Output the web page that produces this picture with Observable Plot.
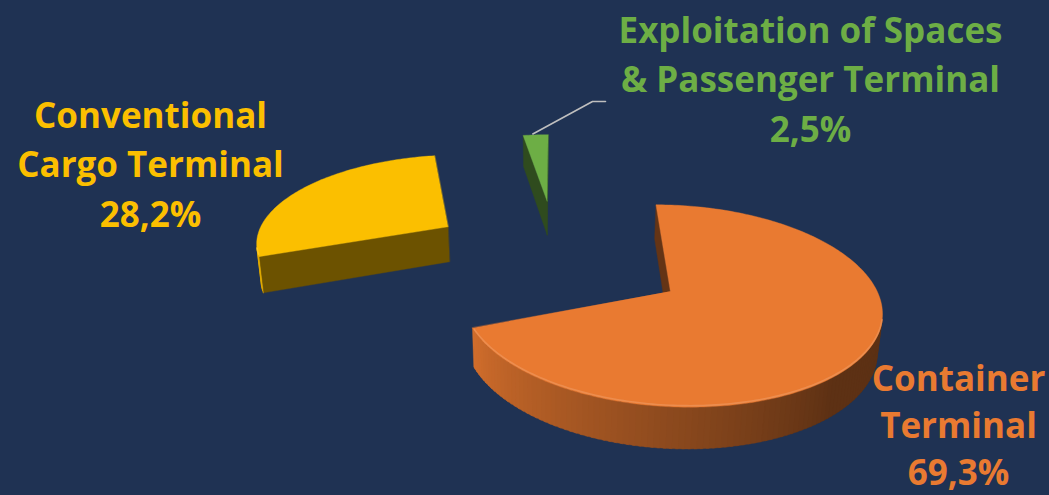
<!DOCTYPE html>
<html>
<head>
<meta charset="utf-8">
<script src="https://cdn.jsdelivr.net/npm/d3@7"></script>
<script src="https://cdn.jsdelivr.net/npm/@observablehq/plot@0.6"></script>
<style>
  html, body { margin: 0; padding: 0; background: #1F3253; }
  #chart { width: 1049px; height: 495px; }
</style>
</head>
<body>
<div id="chart"></div>
<script>
// ---- data ----
const categories = ["Container Terminal", "Conventional Cargo Terminal", "Exploitation of Spaces & Passenger Terminal"];
const values = [69.3, 28.2, 2.5];
const valueLabels = ["69,3%", "28,2%", "2,5%"];
const labelLines = [["Container", "Terminal"], ["Conventional", "Cargo Terminal"], ["Exploitation of Spaces", "& Passenger Terminal"]];
const colors = ["#E97A31", "#FBBF00", "#6DAE45"];

// ---- layout ----
const W = 1049, H = 495;
const CX = 556, CY = 255, S = 196, DIST = 6.5, PHI = 27 * Math.PI / 180, DEPTH = 0.21, EXPLODE = 0.67;
const labelPos = [ // [center x, first baseline y, line gap]
  [958, 390, 47], [150, 127, 49.5], [810, 42, 49.5]
];
const sinP = Math.sin(PHI), cosP = Math.cos(PHI);
const rad = Math.PI / 180;

function proj(X, Y, Z) {
  const w = DIST + Z * cosP - Y * sinP;
  const f = DIST / w;
  return [CX + S * X * f, CY - S * (Z * sinP + Y * cosP) * f];
}
const cam = [0, DIST * sinP, -DIST * cosP];
function visible(n, p) {
  return n[0] * (cam[0] - p[0]) + n[1] * (cam[1] - p[1]) + n[2] * (cam[2] - p[2]) > 0;
}
function shade(color, L) {
  const c = d3.rgb(color);
  return d3.rgb(c.r * L, c.g * L, c.b * L).formatHex();
}
function tint(color, t) {
  return d3.interpolateRgb(color, "#ffffff")(t);
}

// ---- slices ----
const total = d3.sum(values);
let acc = 0;
const slices = values.map((v, i) => {
  const a0 = acc / total * 360; acc += v; const a1 = acc / total * 360;
  const mid = (a0 + a1) / 2 * rad;
  return {i, a0, a1, ox: EXPLODE * Math.sin(mid), oz: EXPLODE * Math.cos(mid)};
});

const rows = [];
const highlight = [];
let fid = 0;
function addPoly(pts3, fill) {
  const id = fid++;
  for (const p of pts3) {
    const [px, py] = proj(p[0], p[1], p[2]);
    rows.push({id, px, py, fill});
  }
}
function rimPt(s, aDeg, Y) {
  return [s.ox + Math.sin(aDeg * rad), Y, s.oz + Math.cos(aDeg * rad)];
}

const order = [...slices].sort((a, b) => b.oz - a.oz);
let hid = 0;
for (const s of order) {
  const col = colors[s.i];
  const apexT = [s.ox, 0, s.oz], apexB = [s.ox, -DEPTH, s.oz];
  const sides = [];
  // cut face at a0
  {
    const n = [-Math.cos(s.a0 * rad), 0, Math.sin(s.a0 * rad)];
    const pts = [apexT, rimPt(s, s.a0, 0), rimPt(s, s.a0, -DEPTH), apexB];
    const c = [(s.ox + pts[1][0]) / 2, -DEPTH / 2, (s.oz + pts[1][2]) / 2];
    if (visible(n, c)) sides.push({pts, fill: shade(col, 0.43)});
  }
  // cut face at a1
  {
    const n = [Math.cos(s.a1 * rad), 0, -Math.sin(s.a1 * rad)];
    const pts = [apexT, rimPt(s, s.a1, 0), rimPt(s, s.a1, -DEPTH), apexB];
    const c = [(s.ox + pts[1][0]) / 2, -DEPTH / 2, (s.oz + pts[1][2]) / 2];
    if (visible(n, c)) sides.push({pts, fill: shade(col, 0.43)});
  }
  // rim (segments overlap slightly to hide seams)
  const steps = Math.max(2, Math.ceil((s.a1 - s.a0) / 1.5));
  const visRim = [];
  for (let k = 0; k < steps; k++) {
    const b0 = s.a0 + (s.a1 - s.a0) * k / steps, b1 = s.a0 + (s.a1 - s.a0) * (k + 1) / steps;
    const bm = (b0 + b1) / 2;
    const n = [Math.sin(bm * rad), 0, Math.cos(bm * rad)];
    const c = rimPt(s, bm, -DEPTH / 2);
    if (!visible(n, c)) continue;
    visRim.push(bm);
    const L = Math.max(0.40, Math.min(0.9, 0.40 + 0.5 * (bm - 140) / 110));
    const e1 = Math.min(s.a1, b1 + 0.6);
    sides.push({pts: [rimPt(s, b0, 0), rimPt(s, e1, 0), rimPt(s, e1, -DEPTH), rimPt(s, b0, -DEPTH)], fill: shade(col, L)});
  }
  for (const f of sides) addPoly(f.pts, f.fill);
  // top
  const top = [apexT];
  const tsteps = Math.max(2, Math.ceil((s.a1 - s.a0) / 1));
  for (let k = 0; k <= tsteps; k++) top.push(rimPt(s, s.a0 + (s.a1 - s.a0) * k / tsteps, 0));
  addPoly(top, col);
  // bevel highlight along the visible front edge of the top face
  if (visRim.length > 1) {
    const id = hid++;
    const lo = d3.min(visRim), hi = d3.max(visRim);
    for (let a = lo; a <= hi; a += 1) {
      const [px, py] = proj(...rimPt(s, a, 0));
      highlight.push({id, px, py: py - 1.5, stroke: tint(col, 0.18)});
    }
  }
}

// leader line for the small slice
const g = slices[2];
const gStart = proj(...rimPt(g, (g.a0 + g.a1) / 2 - 1, 0));
const leader = [
  {x: gStart[0], y: gStart[1] - 1},
  {x: 592, y: 101},
  {x: 605, y: 101}
];

// texts
const texts = [];
slices.forEach(s => {
  const [lx, ly, gap] = labelPos[s.i];
  const lines = [...labelLines[s.i], valueLabels[s.i]];
  lines.forEach((t, j) => texts.push({x: lx, y: ly + j * gap, text: t, fill: colors[s.i]}));
});

const chart = Plot.plot({
  width: W, height: H,
  margin: 0,
  x: {domain: [0, W], range: [0, W], axis: null},
  y: {domain: [0, H], range: [0, H], axis: null},
  color: {type: "identity"},
  style: {background: "#1F3253", overflow: "visible"},
  marks: [
    Plot.line(rows, {x: "px", y: "py", z: "id", fill: "fill", stroke: "fill", strokeWidth: 0.4, curve: "linear-closed"}),
    Plot.line(highlight, {x: "px", y: "py", z: "id", stroke: "stroke", strokeWidth: 1.6, strokeOpacity: 0.8}),
    Plot.line(leader, {x: "x", y: "y", stroke: "#BFBFBF", strokeWidth: 1.6}),
    Plot.text(texts, {x: "x", y: "y", text: "text", fill: "fill", fontSize: 35, fontWeight: "bold",
      fontFamily: "'Open Sans', 'Noto Sans', sans-serif", textAnchor: "middle", lineAnchor: "bottom"})
  ]
});
document.getElementById("chart").appendChild(chart);
</script>
</body>
</html>
